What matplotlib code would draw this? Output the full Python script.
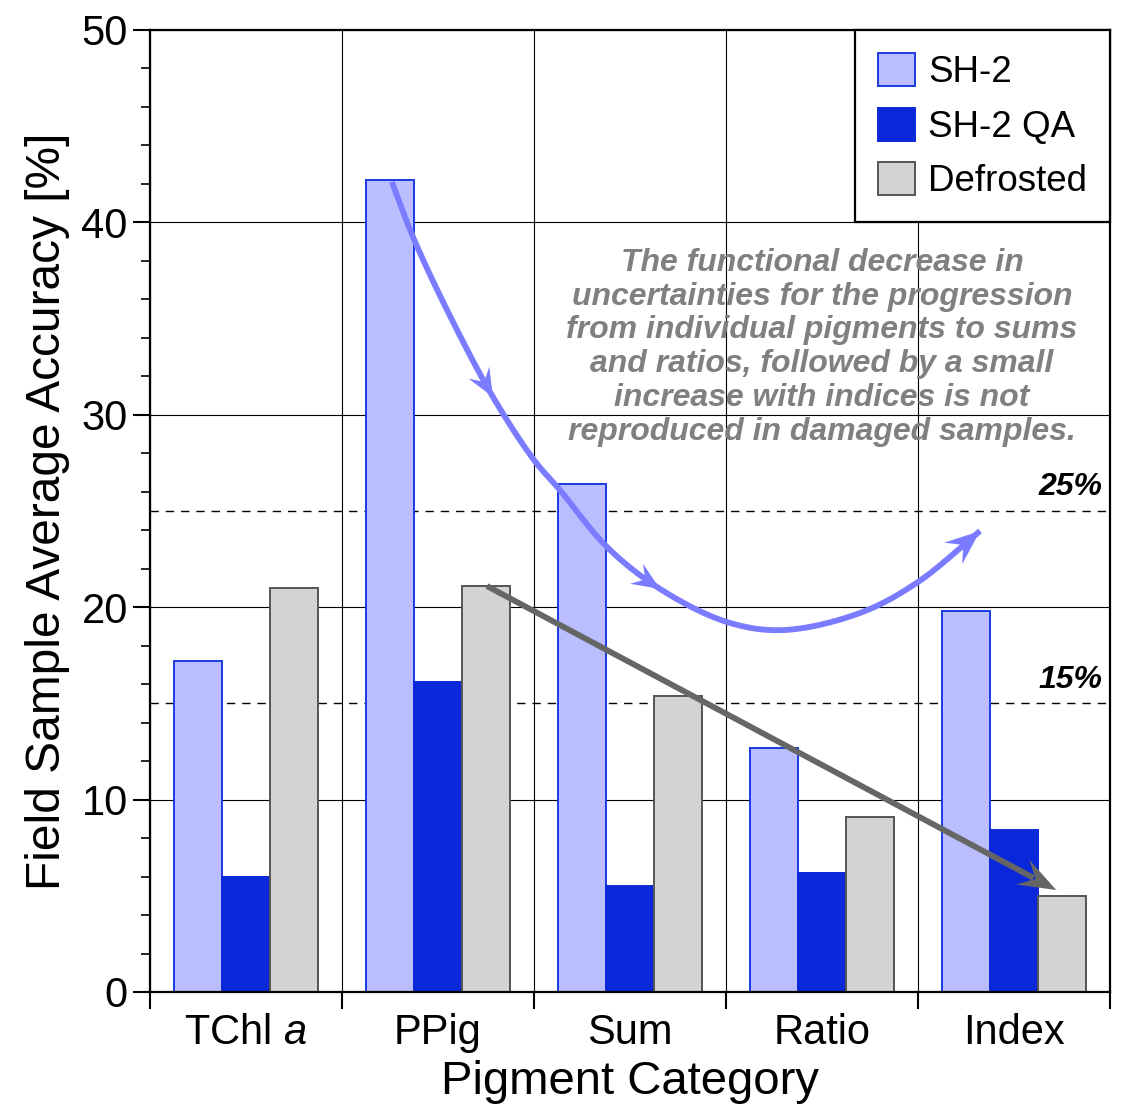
import matplotlib
matplotlib.use("Agg")
import matplotlib.pyplot as plt
import numpy as np
from matplotlib.patches import Polygon
from matplotlib.transforms import IdentityTransform

plt.rcParams['font.family'] = ['Liberation Sans', 'DejaVu Sans']
plt.rcParams['mathtext.fontset'] = 'custom'
plt.rcParams['mathtext.rm'] = 'Liberation Sans'
plt.rcParams['mathtext.it'] = 'Liberation Sans:italic'

# data
categories = ['TChl $\\mathit{a}$', 'PPig', 'Sum', 'Ratio', 'Index']
sh2 = [17.2, 42.2, 26.4, 12.7, 19.8]
sh2_qa = [6.0, 16.1, 5.5, 6.2, 8.4]
defrosted = [21.0, 21.1, 15.4, 9.1, 5.0]
series_names = ['SH-2', 'SH-2 QA', 'Defrosted']
thresholds = [15, 25]

# hand-drawn guide for the SH-2 trend (x in category units, y in %)
trend_x = [1.26, 1.37, 1.547, 1.786, 2.0, 2.135, 2.38, 2.656, 3.005, 3.297, 3.698, 4.0, 4.323]
trend_y = [42.1, 39.24, 35.45, 30.93, 27.65, 26.09, 23.13, 20.95, 19.23, 18.81, 19.7, 21.31, 23.96]
trend_arrows = [3, 7]

note = ("The functional decrease in\n"
        "uncertainties for the progression\n"
        "from individual pigments to sums\n"
        "and ratios, followed by a small\n"
        "increase with indices is not\n"
        "reproduced in damaged samples.")

fig = plt.figure(figsize=(11.21, 11.07), dpi=100)
ax = fig.add_axes([0.1338, 0.1039, 0.8564, 0.869])

n = len(categories)
x = np.arange(n)
w = 0.25
ax.bar(x + 0.25, sh2, w, color='#bbbefe', edgecolor='#1a3be0', linewidth=1.4,
       label=series_names[0], zorder=2)
ax.bar(x + 0.5, sh2_qa, w, color='#0a28da', edgecolor='#0a28da', linewidth=1.4,
       label=series_names[1], zorder=2)
ax.bar(x + 0.75, defrosted, w, color='#d3d3d3', edgecolor='#555555', linewidth=1.4,
       label=series_names[2], zorder=2)

for t in thresholds:
    ax.axhline(t, color='black', lw=1.0, ls=(0, (6, 5)), zorder=1)
    ax.text(n - 0.04, t + 0.45, '%d%%' % t, ha='right', va='bottom', fontsize=23,
            fontweight='bold', fontstyle='italic', zorder=3)

ax.set_xlim(0, n)
ax.set_ylim(0, 50)
ax.set_xticks(np.arange(n + 1))
ax.set_xticklabels([])
ax.set_xticks(x + 0.5, minor=True)
ax.set_xticklabels(categories, minor=True, fontsize=30)
ax.tick_params(axis='x', which='major', direction='out', length=12, width=1.5)
ax.tick_params(axis='x', which='minor', length=0, pad=15)
ax.set_yticks(np.arange(0, 51, 10))
ax.set_yticks(np.arange(0, 51, 2), minor=True)
ax.tick_params(axis='y', which='major', direction='out', length=12, width=1.5,
               labelsize=30, pad=4)
ax.tick_params(axis='y', which='minor', direction='out', length=6.5, width=1.2)
ax.set_axisbelow(True)
ax.grid(True, which='major', color='black', lw=0.8)
for s in ax.spines.values():
    s.set_linewidth(1.6)

ax.set_xlabel('Pigment Category', fontsize=34, labelpad=5)
ax.set_ylabel('Field Sample Average Accuracy [%]', fontsize=34.5, labelpad=8)

leg = ax.legend(loc='upper right', fontsize=26.5, frameon=True, fancybox=False,
                edgecolor='black', framealpha=1, borderaxespad=0,
                handlelength=1.0, handleheight=1.0, handletextpad=0.36,
                labelspacing=0.48, borderpad=0.62)
leg.get_frame().set_linewidth(1.6)
leg.set_zorder(6)

ax.text(3.5, 33.5, note, ha='center', va='center', fontsize=23,
        fontweight='bold', fontstyle='italic', color='#808080',
        linespacing=1.17, zorder=3)


def centripetal_spline(pts, steps=40):
    # centripetal Catmull-Rom through pixel points
    pts = np.vstack([2 * pts[0] - pts[1], pts, 2 * pts[-1] - pts[-2]])
    out = []
    for i in range(1, len(pts) - 2):
        p0, p1, p2, p3 = pts[i - 1], pts[i], pts[i + 1], pts[i + 2]
        t0 = 0.0
        t1 = t0 + np.hypot(*(p1 - p0)) ** 0.5
        t2 = t1 + np.hypot(*(p2 - p1)) ** 0.5
        t3 = t2 + np.hypot(*(p3 - p2)) ** 0.5
        for t in np.linspace(t1, t2, steps, endpoint=False):
            a1 = (t1 - t) / (t1 - t0) * p0 + (t - t0) / (t1 - t0) * p1
            a2 = (t2 - t) / (t2 - t1) * p1 + (t - t1) / (t2 - t1) * p2
            a3 = (t3 - t) / (t3 - t2) * p2 + (t - t2) / (t3 - t2) * p3
            b1 = (t2 - t) / (t2 - t0) * a1 + (t - t0) / (t2 - t0) * a2
            b2 = (t3 - t) / (t3 - t1) * a2 + (t - t1) / (t3 - t1) * a3
            out.append((t2 - t) / (t2 - t1) * b1 + (t - t1) / (t2 - t1) * b2)
    out.append(pts[-2])
    return np.array(out)


def stealth(ax, tip, frm, color, L=26, W=11):
    # arrowhead drawn in pixel space (tip, frm given in pixels)
    d = np.asarray(tip) - np.asarray(frm)
    d = d / np.hypot(*d)
    nrm = np.array([-d[1], d[0]])
    tp = np.asarray(tip)
    pts = [tp, tp - L * d + W * nrm, tp - 0.62 * L * d, tp - L * d - W * nrm]
    ax.add_patch(Polygon(pts, closed=True, color=color, transform=IdentityTransform(),
                         zorder=5, lw=0))


blue = '#7b7bff'
px_pts = ax.transData.transform(np.column_stack([trend_x, trend_y]))
curve_px = centripetal_spline(px_pts)
curve = ax.transData.inverted().transform(curve_px)
ax.plot(curve[:, 0], curve[:, 1], color=blue, lw=4.2, solid_capstyle='butt', zorder=4)
for k in trend_arrows:
    i = k * 40
    stealth(ax, curve_px[i], curve_px[i - 4], blue, L=28, W=12)
stealth(ax, curve_px[-1], curve_px[-5], blue, L=35, W=14)

gray = '#666666'
g0 = (1.755, defrosted[1])
g1 = (4.72, defrosted[4] + 0.3)
frac = 0.96
ax.plot([g0[0], g0[0] + frac * (g1[0] - g0[0])], [g0[1], g0[1] + frac * (g1[1] - g0[1])],
        color=gray, lw=4.2, solid_capstyle='butt', zorder=4)
gp = ax.transData.transform([g0, g1])
stealth(ax, gp[1], gp[0], gray, L=38, W=14)

fig.savefig('out.png', dpi=100)
